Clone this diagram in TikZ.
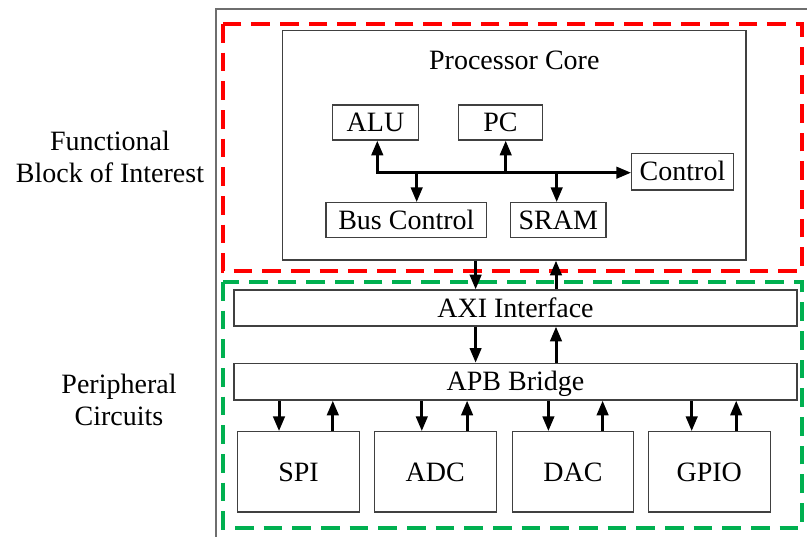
\documentclass[tikz,border=0pt]{standalone}
\usepackage{fontspec}
\setmainfont{Liberation Serif}
\usetikzlibrary{arrows.meta}
\definecolor{frameRed}{RGB}{255,0,0}
\definecolor{frameGreen}{RGB}{0,176,80}
\definecolor{boxEdge}{RGB}{64,64,64}
\definecolor{outerEdge}{RGB}{110,110,110}
\newcommand{\lblfont}{\fontsize{21}{24}\selectfont}
\tikzset{
  blk/.style 2 args={draw=boxEdge, line width=0.9pt, inner sep=0pt,
    font=\lblfont, text height=14pt, text depth=0pt,
    minimum width={#1*0.75pt}, minimum height={#2*0.75pt}},
  side/.style={align=center, font=\lblfont, inner sep=0pt},
  bus/.style={line width=2.25pt},
  arr/.style={bus, -{Triangle[width=8.5pt,length=11pt]}},
  biarr/.style={bus, {Triangle[width=8.5pt,length=11pt]}-{Triangle[width=8.5pt,length=11pt]}},
  redframe/.style={draw=frameRed, line width=3pt, dash pattern=on 14pt off 7.5pt},
  greenframe/.style={draw=frameGreen, line width=3pt, dash pattern=on 14pt off 7.5pt},
}
\begin{document}
\begin{tikzpicture}[x=0.75pt, y=-0.75pt]
\useasboundingbox (0,0) rectangle (807,537);

% outer frame (open to the right and bottom)
\draw[outerEdge, line width=1.3pt] (807,9) -- (215.7,9) -- (215.7,537);

% group frames
\draw[redframe] (222.7,24) rectangle (802,271);
\draw[greenframe] (223,282) rectangle (802,528);

% side captions
\node[side] (fbi) at (110,157) {Functional\\Block of Interest};
\node[side] (pcirc) at (119,400) {Peripheral\\Circuits};

% processor core
\node[blk={463.3}{229.3}] (proc) at (514.35,145.35) {};
\node[font=\lblfont, anchor=base, inner sep=0pt] (proctitle) at (514.3,69) {Processor Core};

\node[blk={85.6}{35}] (alu) at (375.5,122.5) {ALU};
\node[blk={84.4}{35}] (pc) at (500.5,122.5) {PC};
\node[blk={101.6}{36.7}] (ctrl) at (682.5,171.65) {Control};
\node[blk={160.7}{34.6}] (busctl) at (406.35,220) {Bus Control};
\node[blk={95.3}{34.6}] (sram) at (558.35,220) {SRAM};

% internal bus
\coordinate (busL) at (377.3,172.7);
\coordinate (jPC) at (505.7,172.7);
\coordinate (jBC) at (416.7,172.7);
\coordinate (jSR) at (556.7,172.7);
\draw[biarr] (busL |- alu.south) -- (busL) -- (busL -| ctrl.west);
\draw[arr] (jPC) -- (jPC |- pc.south);
\draw[arr] (jBC) -- (jBC |- busctl.north);
\draw[arr] (jSR) -- (jSR |- sram.north);

% bridges
\node[blk={563}{36}] (axi) at (515.5,308) {AXI Interface};
\node[blk={563}{36.7}] (apb) at (515.5,381.65) {APB Bridge};

\draw[arr] (proc.south -| 475.6,0) -- (axi.north -| 475.6,0);
\draw[arr] (axi.north -| 556,0) -- (proc.south -| 556,0);
\draw[arr] (axi.south -| 475.6,0) -- (apb.north -| 475.6,0);
\draw[arr] (apb.north -| 556,0) -- (axi.south -| 556,0);

% peripherals
\node[blk={121.9}{80.3}] (spi) at (298.55,471.85) {SPI};
\node[blk={122}{80.3}] (adc) at (435.2,471.85) {ADC};
\node[blk={121.2}{80.3}] (dac) at (573,471.85) {DAC};
\node[blk={122}{80.3}] (gpio) at (709.3,471.85) {GPIO};

\draw[arr] (apb.south -| 279,0) -- (spi.north -| 279,0);
\draw[arr] (spi.north -| 332.8,0) -- (apb.south -| 332.8,0);
\draw[arr] (apb.south -| 421.8,0) -- (adc.north -| 421.8,0);
\draw[arr] (adc.north -| 467.1,0) -- (apb.south -| 467.1,0);
\draw[arr] (apb.south -| 548.4,0) -- (dac.north -| 548.4,0);
\draw[arr] (dac.north -| 602.6,0) -- (apb.south -| 602.6,0);
\draw[arr] (apb.south -| 691.7,0) -- (gpio.north -| 691.7,0);
\draw[arr] (gpio.north -| 736.2,0) -- (apb.south -| 736.2,0);
\end{tikzpicture}
\end{document}
